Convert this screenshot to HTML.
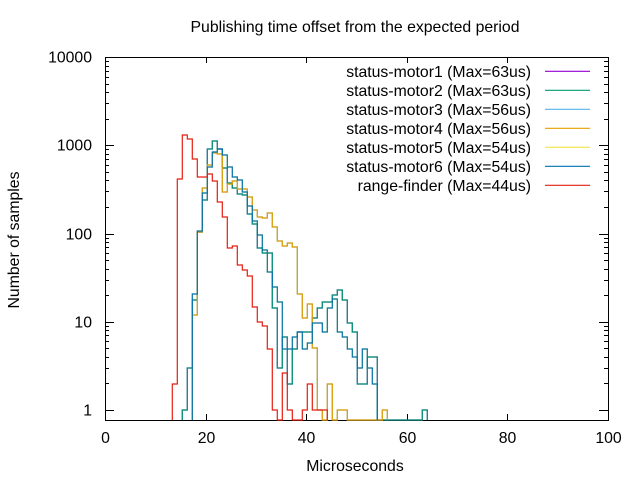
<!DOCTYPE html>
<html><head><meta charset="utf-8"><style>
body{margin:0;background:#fff;}
svg{display:block;font-family:"Liberation Sans",sans-serif;}
</style></head><body>
<svg id="s" width="640" height="480" xmlns="http://www.w3.org/2000/svg">
<text x="355" y="32" font-size="15.8" text-anchor="middle">Publishing time offset from the expected period</text>
<g id="ax" stroke="#000" stroke-width="1" fill="none"></g>
<g id="lab" font-size="15.8" fill="#000"></g>
<text x="355" y="471" font-size="15.8" text-anchor="middle">Microseconds</text>
<text transform="translate(19,240) rotate(-90)" font-size="15.8" text-anchor="middle">Number of samples</text>
<g id="leg" font-size="15.8"></g>
<g id="ser" fill="none" stroke-width="1.2"></g>
</svg>
<script>
var NS="http://www.w3.org/2000/svg";
function el(p,t,a,txt){var e=document.createElementNS(NS,t);for(var k in a)e.setAttribute(k,a[k]);if(txt!=null)e.textContent=txt;document.getElementById(p).appendChild(e);return e;}
var L=105,R=608,T=57,B=420;
el("ax","rect",{x:L+.5,y:T+.5,width:R-L,height:B-T});
for(var i=0;i<=5;i++){var x=L+i*(R-L)/5;x=Math.round(x)+.5;
el("ax","line",{x1:x,y1:B,x2:x,y2:B-6});el("ax","line",{x1:x,y1:T,x2:x,y2:T+6});
el("lab","text",{x:x,y:443,"text-anchor":"middle"},String(i*20));}
var dec=88.25,y1=410;
for(var d=0;d<=4;d++){var y=Math.round(y1-d*dec)+.5;
el("ax","line",{x1:L,y1:y,x2:L+9,y2:y});el("ax","line",{x1:R,y1:y,x2:R-9,y2:y});
el("lab","text",{x:92,y:y+5,"text-anchor":"end"},String(Math.pow(10,d)));
if(d<4)for(var m=2;m<=9;m++){var ym=Math.round(y1-(d+Math.log10(m))*dec)+.5;
el("ax","line",{x1:L,y1:ym,x2:L+4,y2:ym});el("ax","line",{x1:R,y1:ym,x2:R-4,y2:ym});}}
var leg=[["status-motor1 (Max=63us)","#9400d3"],["status-motor2 (Max=63us)","#009e73"],["status-motor3 (Max=56us)","#56b4e9"],["status-motor4 (Max=56us)","#e69f00"],["status-motor5 (Max=54us)","#f0e442"],["status-motor6 (Max=54us)","#0072b2"],["range-finder (Max=44us)","#e51e10"]];
leg.forEach(function(l,i){var y=71.3+i*19;el("leg","text",{x:531,y:y+5.5,"text-anchor":"end"},l[0]);
el("leg","line",{x1:545,y1:y,x2:590,y2:y,stroke:l[1],"stroke-width":1.2});});
function step(start,vals,color){var x0=172.3+start*5,d="M"+x0+" "+B;var x=x0;
vals.forEach(function(v){var y=v==0?B:v;d+=" L"+x+" "+y+" L"+(x+5)+" "+y;x+=5;});
d+=" L"+x+" "+B;el("ser","path",{d:d,stroke:color});}
var green=[410,368,300,232,200,149,141,149,168,183,188,194,195,214,224,248,253,253,308,368,337,384,349,332,332,332,318,308,302,302,295,290,300,323,332,384,384,357,357,0,0,0,0,0,0,0,0,0,410];
var orange=[315,232,188,165,153,154,192,184,181,189,189,197,210,217,218,213,227,241,246,243,247,294,318,304,348,410,0,384,0,410,410,0,0,0,0,0,0,0,410];
var blue=[294,231,193,167,152,149,155,167,177,180,192,206,221,235,250,272,287,302,349,349,337,332,349,343,323,323,332,308,299,332,337,349,357,368,349,368,384];
var red=[384,179,135,139,159,177,177,174,181,202,217,248,246,265,270,276,307,322,326,349,410,0,373,410,0,0,410,384,410,410,410];
step(2,green,"#9400d3");
step(4,orange,"#56b4e9");
step(4,blue,"#f0e442");
step(2,green,"#009e73");
step(4,orange,"#e69f00");
step(4,blue,"#0072b2");
step(0,red,"#e51e10");
</script>
</body></html>
